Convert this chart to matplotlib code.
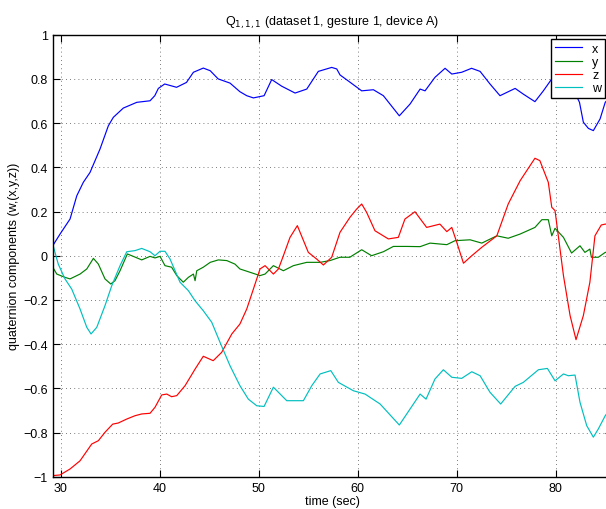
import numpy as np
import matplotlib
matplotlib.use("Agg")
import matplotlib.pyplot as plt

plt.rcParams['font.family'] = ['Liberation Sans', 'DejaVu Sans']

# 四元数分量 (时间, 数值)
t_x = [29.19, 29.93, 30.94, 31.62, 32.28, 32.96, 33.97, 34.81, 35.31, 36.32, 37.68, 39.02, 39.5, 39.86,
       40.5, 41.7, 42.7, 43.4, 44.4, 45.1, 45.9, 47.1, 48.1, 48.79, 49.46, 50.54, 51.31, 52.32, 53.67,
       54.85, 56.02, 57.37, 57.88, 58.21, 59.22, 60.4, 61.58, 62.59, 64.2, 65.28, 66.3, 66.8, 67.8,
       68.82, 69.5, 70.5, 71.5, 72.36, 73.36, 74.37, 75.9, 76.73, 77.9, 78.75, 79.6, 80.3, 81.0, 81.7,
       82.4, 82.79, 83.3, 83.8, 84.48, 85.0, 85.7]
q_x = [0.045, 0.098, 0.166, 0.271, 0.332, 0.377, 0.483, 0.588, 0.626, 0.668, 0.694, 0.701, 0.724, 0.757,
       0.777, 0.762, 0.784, 0.83, 0.849, 0.837, 0.80, 0.781, 0.742, 0.724, 0.714, 0.724, 0.797, 0.767, 0.736,
       0.754, 0.834, 0.852, 0.845, 0.818, 0.785, 0.746, 0.751, 0.724, 0.633, 0.686, 0.754, 0.746, 0.807,
       0.848, 0.822, 0.83, 0.848, 0.834, 0.777, 0.724, 0.757, 0.731, 0.697, 0.746, 0.80, 0.82, 0.80, 0.76,
       0.694, 0.604, 0.576, 0.566, 0.619, 0.694, 0.73]

t_y = [29.19, 29.6, 30.43, 30.94, 31.95, 32.63, 33.3, 33.8, 34.47, 35.05, 35.48, 35.99, 36.73, 37.33,
       38.18, 39.02, 39.52, 40.03, 40.53, 41.2, 41.72, 42.38, 42.89, 43.4, 43.57, 43.74, 44.4, 45.1,
       45.92, 46.77, 47.6, 48.1, 49.12, 50.13, 50.64, 51.48, 52.49, 53.5, 54.85, 56.2, 57.2, 58.2, 59.2,
       60.4, 61.4, 62.59, 63.6, 64.95, 66.3, 67.3, 69.0, 69.83, 71.35, 72.53, 74.05, 75.2, 76.4, 77.9,
       78.6, 79.25, 79.6, 79.93, 80.78, 81.6, 82.45, 82.95, 83.45, 83.6, 84.3, 85.0, 85.7]
q_y = [-0.052, -0.083, -0.098, -0.105, -0.083, -0.06, -0.012, -0.038, -0.105, -0.128, -0.113, -0.068, 0.008, -0.003,
       -0.019, -0.003, -0.01, -0.003, -0.045, -0.052, -0.09, -0.12, -0.098, -0.083, -0.113, -0.068, -0.052, -0.03,
       -0.019, -0.022, -0.038, -0.06, -0.075, -0.09, -0.083, -0.045, -0.068, -0.045, -0.03, -0.03, -0.022, -0.007, -0.007,
       0.027, 0.0, 0.018, 0.042, 0.042, 0.041, 0.057, 0.05, 0.068, 0.072, 0.057, 0.09, 0.079, 0.098, 0.128,
       0.163, 0.163, 0.09, 0.124, 0.083, 0.012, 0.045, 0.015, 0.03, -0.007, -0.007, 0.015, 0.02]

t_z = [29.19, 29.93, 30.94, 31.95, 33.13, 33.8, 34.47, 35.25, 35.81, 36.67, 37.5, 38.18, 39.02, 39.52,
       40.2, 40.71, 41.2, 41.72, 42.56, 43.57, 44.4, 45.4, 46.26, 47.28, 48.1, 48.79, 49.46, 50.13,
       50.64, 51.48, 51.99, 52.49, 53.16, 53.9, 55.01, 55.85, 56.53, 57.37, 58.21, 59.22, 59.89, 60.4,
       60.9, 61.74, 63.09, 64.1, 64.77, 65.78, 66.96, 68.3, 69.0, 69.5, 70.0, 70.68, 71.52, 72.53,
       74.05, 75.2, 76.4, 77.9, 78.4, 79.25, 79.6, 79.93, 80.78, 81.45, 82.05, 82.79, 83.45, 83.96,
       84.6, 85.0, 85.7]
q_z = [-0.995, -0.992, -0.965, -0.928, -0.852, -0.837, -0.799, -0.762, -0.757, -0.739, -0.724, -0.716, -0.713, -0.686,
       -0.63, -0.626, -0.638, -0.633, -0.588, -0.513, -0.455, -0.475, -0.437, -0.354, -0.309, -0.241, -0.151, -0.06,
       -0.045, -0.083, -0.06, 0.0, 0.083, 0.136, 0.015, -0.015, -0.042, -0.007, 0.106, 0.174, 0.211, 0.234,
       0.196, 0.113, 0.076, 0.083, 0.166, 0.199, 0.128, 0.143, 0.109, 0.128, 0.061, -0.034, 0.0, 0.038,
       0.09, 0.234, 0.339, 0.441, 0.43, 0.332, 0.219, 0.204, -0.09, -0.271, -0.38, -0.271, -0.12, 0.09,
       0.139, 0.143, 0.143]

t_w = [29.19, 29.42, 29.75, 30.43, 31.11, 31.95, 32.63, 33.06, 33.64, 34.47, 35.15, 35.99, 36.67, 37.5,
       38.18, 39.02, 39.52, 40.03, 40.53, 41.04, 41.55, 42.05, 42.89, 43.57, 44.4, 45.25, 46.09, 47.1,
       48.1, 48.95, 49.8, 50.54, 51.48, 52.83, 54.51, 55.36, 56.2, 57.28, 58.04, 59.56, 60.74, 62.26,
       64.2, 65.28, 66.3, 66.9, 67.8, 68.65, 69.5, 70.5, 71.52, 72.36, 73.36, 74.44, 75.9, 76.73,
       78.25, 79.16, 79.93, 80.78, 81.27, 81.95, 82.45, 83.13, 83.8, 84.3, 85.0, 85.7]
q_w = [0.053, 0.015, -0.038, -0.105, -0.151, -0.241, -0.324, -0.354, -0.324, -0.226, -0.136, -0.045, 0.018, 0.023,
       0.033, 0.018, 0.0, 0.02, 0.02, -0.015, -0.068, -0.12, -0.158, -0.204, -0.249, -0.301, -0.392, -0.498,
       -0.588, -0.649, -0.679, -0.682, -0.595, -0.656, -0.656, -0.588, -0.535, -0.52, -0.573, -0.611, -0.626, -0.671,
       -0.766, -0.694, -0.626, -0.649, -0.558, -0.516, -0.55, -0.555, -0.525, -0.543, -0.618, -0.671, -0.591, -0.573,
       -0.516, -0.51, -0.566, -0.535, -0.543, -0.54, -0.663, -0.769, -0.821, -0.784, -0.724, -0.68]

x_ticks = [30, 40, 50, 60, 70, 80]
y_ticks = [-1, -0.8, -0.6, -0.4, -0.2, 0, 0.2, 0.4, 0.6, 0.8, 1]
y_tick_labels = ['\u22121', '\u22120.8', '\u22120.6', '\u22120.4', '\u22120.2', '0', '0.2', '0.4', '0.6', '0.8', '1']

fig = plt.figure(figsize=(6.06, 5.10), dpi=100)
ax = fig.add_axes([0.087, 0.0633, 0.923, 0.8667])

ax.plot(t_x, q_x, color=(0, 0, 1), lw=0.85, label='x')
ax.plot(t_y, q_y, color=(0, 0.5, 0), lw=0.85, label='y')
ax.plot(t_z, q_z, color=(1, 0, 0), lw=0.85, label='z')
ax.plot(t_w, q_w, color=(0, 0.75, 0.75), lw=0.85, label='w')

ax.set_xlim(29.19, 85.69)
ax.set_ylim(-1, 1)
ax.set_xticks(x_ticks)
ax.set_yticks(y_ticks)
ax.set_yticklabels(y_tick_labels)
ax.tick_params(direction='in', length=5, width=0.8, top=True, right=True, labelsize=9)
ax.grid(True, linestyle=(0, (1, 4)), color='#505050', lw=0.6)
for s in ax.spines.values():
    s.set_linewidth(1.0)

ax.set_title(r'Q$_{1,1,1}$ (dataset 1, gesture 1, device A)', fontsize=9, pad=7)
ax.set_xlabel('time (sec)', fontsize=9, labelpad=1)
ax.set_ylabel('quaternion components (w,(x,y,z))', fontsize=9, labelpad=2)

leg = ax.legend(loc='upper right', bbox_to_anchor=(605 / 606, 1 - 40 / 510), bbox_transform=fig.transFigure,
                borderaxespad=0, fancybox=False, framealpha=1, edgecolor='black', fontsize=9,
                handlelength=2.2, handletextpad=0.8, labelspacing=0.1, borderpad=0.3)
leg.get_frame().set_linewidth(1.0)

fig.savefig('out.png', dpi=100)
